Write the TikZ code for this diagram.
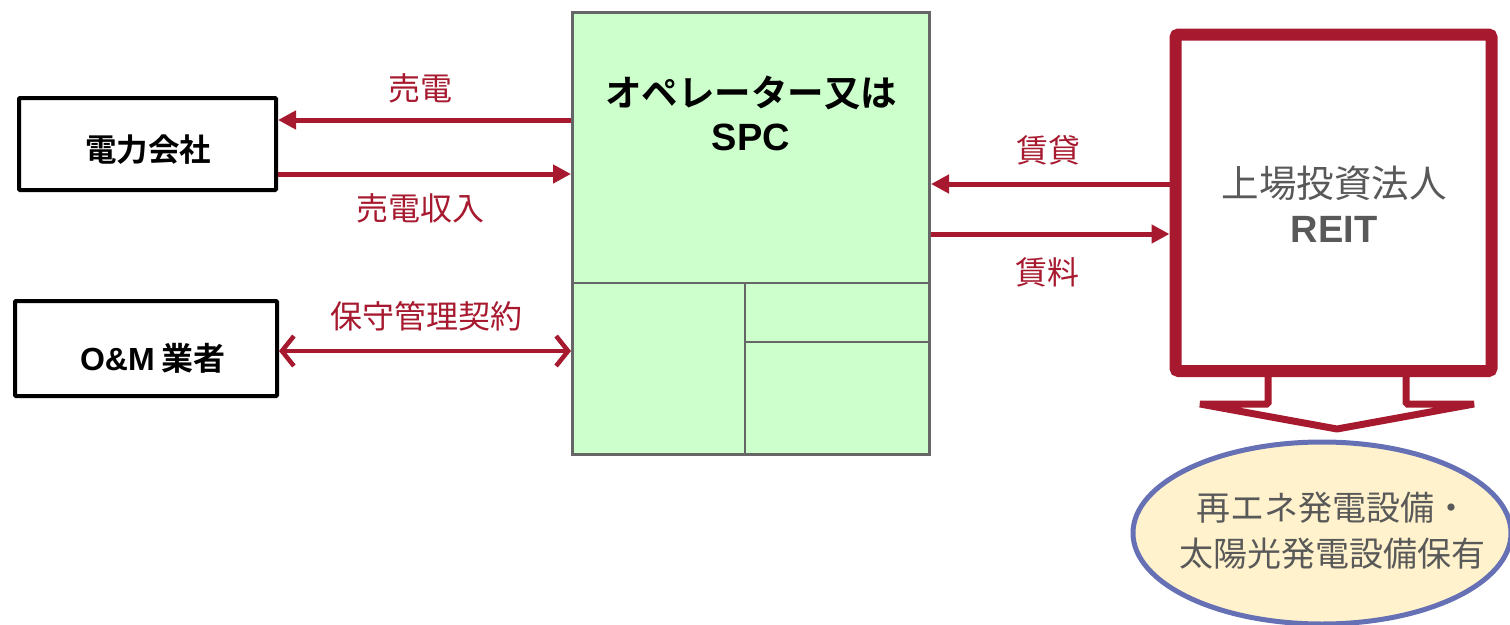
\documentclass[tikz,border=0pt]{standalone}
\usepackage{fontspec}
\setmainfont{Liberation Sans}
\newfontfamily\jp{Noto Sans CJK JP}[BoldFont={Noto Sans CJK JP Bold}]
\usetikzlibrary{arrows.meta,shapes.geometric}
\definecolor{dred}{HTML}{A6192E}
\definecolor{spcfill}{HTML}{CCFFCC}
\definecolor{spcline}{HTML}{666666}
\definecolor{txtgray}{HTML}{595959}
\definecolor{ellfill}{HTML}{FFF2CC}
\definecolor{elline}{HTML}{6670B5}
\tikzset{
  partybox/.style={draw=black, line width=4pt, fill=white, inner sep=0pt, rounded corners=1pt},
  flow/.style={draw=dred, line width=5pt, -{Triangle[length=18pt,width=18pt]}},
  flowboth/.style={draw=dred, line width=4pt, {Straight Barb[length=12pt,width=30pt,line width=4.5pt]}-{Straight Barb[length=12pt,width=30pt,line width=4.5pt]}},
  flowlabel/.style={text=dred, font=\jp\fontsize{32}{36}\selectfont, inner sep=0pt},
  divline/.style={draw=spcline, line width=2.5pt},
}
\begin{document}
\begin{tikzpicture}[x=1pt,y=-1pt]
\useasboundingbox (0,0) rectangle (1510,624);

% SPC box
\node[draw=spcline, fill=spcfill, line width=3pt, minimum width=357pt, minimum height=442pt, inner sep=0pt] (spc) at (751,233.5) {};
\draw[divline] (572.5,283) -- (929.5,283);
\draw[divline] (745,283) -- (745,454.5);
\draw[divline] (745,342) -- (929.5,342);
\node[align=center, font=\jp\bfseries\fontsize{36.5}{44}\selectfont, inner sep=0pt] (spctext) at (751,113) {オペレーター又は\\{\rmfamily\bfseries\fontsize{38}{44}\selectfont SPC}};

% left parties
\node[partybox, minimum width=257pt, minimum height=92pt] (power) at (147.5,144) {};
\node[font=\jp\bfseries\fontsize{31.5}{36}\selectfont, inner sep=0pt] (powertext) at (148,150) {電力会社};
\node[partybox, minimum width=262pt, minimum height=95pt] (om) at (146,348.5) {};
\node[font=\jp\bfseries\fontsize{32}{36}\selectfont, inner sep=0pt] (omtext) at (153,358) {{\rmfamily\bfseries O\&M} 業者};

% left arrows
\draw[flow] (spc.west |- 0,120) -- (power.east |- 0,120);
\draw[flow] (power.east |- 0,174) -- (spc.west |- 0,174);
\draw[flowboth] (om.east |- 0,351) -- (spc.west |- 0,351);
\node[flowlabel] (l1) at (420,88) {売電};
\node[flowlabel] (l2) at (420,208) {売電収入};
\node[flowlabel] (l3) at (426,316) {保守管理契約};

% REIT
\draw[draw=dred, fill=white, line width=7pt, line join=bevel]
  (1268,368) -- (1268,404) -- (1200,404) -- (1337,429) -- (1474,404) -- (1406,404) -- (1406,368);
\node[draw=dred, fill=white, line width=12pt, minimum width=316pt, minimum height=336.5pt, inner sep=0pt, rounded corners=3pt] (reit) at (1333.5,202.75) {};
\node[align=center, text=txtgray, font=\jp\fontsize{37.5}{45}\selectfont, inner sep=0pt] (reittext) at (1334,204) {上場投資法人\\{\rmfamily\bfseries\fontsize{38}{45}\selectfont REIT}};

% right arrows
\draw[flow] (reit.west |- 0,184) -- (spc.east |- 0,184);
\draw[flow] (spc.east |- 0,234) -- (reit.west |- 0,234);
\node[flowlabel] (r1) at (1048,150) {賃貸};
\node[flowlabel] (r2) at (1047,272) {賃料};

% ellipse
\node[ellipse, draw=elline, fill=ellfill, line width=5pt, minimum width=378pt, minimum height=182pt, inner sep=0pt] (asset) at (1322,533) {};
\node[align=center, text=txtgray, font=\jp\fontsize{34}{46}\selectfont, inner sep=0pt] (assettext) at (1332,531) {再エネ発電設備・\\太陽光発電設備保有};
\end{tikzpicture}
\end{document}
